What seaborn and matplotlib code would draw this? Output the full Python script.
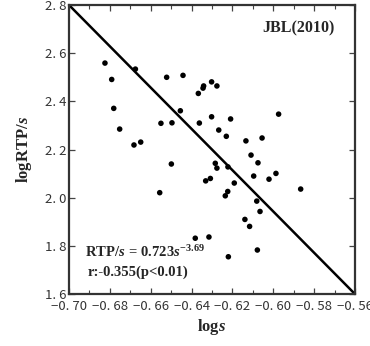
import numpy as np
import pandas as pd
import seaborn as sns
import matplotlib.pyplot as plt
from matplotlib.ticker import MultipleLocator

# values
log_s = [-0.6824, -0.6675, -0.6791, -0.6522, -0.6442, -0.6302, -0.6276, -0.6341,
         -0.6344, -0.6367, -0.6781, -0.6455, -0.6302, -0.6209, -0.5974, -0.6550,
         -0.6496, -0.6362, -0.6752, -0.6267, -0.6230, -0.6055, -0.6134, -0.6682,
         -0.6649, -0.6109, -0.6499, -0.6075, -0.6284, -0.6276, -0.6222, -0.6096,
         -0.5987, -0.6021, -0.6331, -0.6308, -0.6191, -0.6556, -0.5866, -0.6223,
         -0.6235, -0.6081, -0.6065, -0.6139, -0.6116, -0.6382, -0.6315, -0.6078,
         -0.6220]
log_rtp = [2.559, 2.534, 2.491, 2.500, 2.508, 2.481, 2.464, 2.464,
           2.455, 2.433, 2.371, 2.361, 2.336, 2.327, 2.347, 2.309,
           2.311, 2.310, 2.285, 2.281, 2.255, 2.248, 2.236, 2.219,
           2.231, 2.177, 2.140, 2.145, 2.143, 2.123, 2.128, 2.090,
           2.101, 2.077, 2.070, 2.080, 2.061, 2.021, 2.036, 2.026,
           2.008, 1.986, 1.943, 1.910, 1.881, 1.832, 1.837, 1.783,
           1.755]
fit_x = [-0.70, -0.56]
fit_y = [2.8, 1.6]

x_ticks = [-0.70, -0.68, -0.66, -0.64, -0.62, -0.60, -0.58, -0.56]
x_labels = ['\u22120. 70', '\u22120. 68', '\u22120. 66', '\u22120. 64',
            '\u22120. 62', '\u22120. 60', '\u22120. 58', '\u22120. 56']
y_ticks = [1.6, 1.8, 2.0, 2.2, 2.4, 2.6, 2.8]
y_labels = ['1. 6', '1. 8', '2. 0', '2. 2', '2. 4', '2. 6', '2. 8']


def main():
    sns.set_theme(style='ticks')
    plt.rcParams['font.family'] = ['Noto Sans CJK JP', 'DejaVu Sans']
    plt.rcParams['mathtext.fontset'] = 'custom'
    plt.rcParams['mathtext.rm'] = 'Liberation Serif:bold'
    plt.rcParams['mathtext.it'] = 'Liberation Serif:bold:italic'

    df = pd.DataFrame({'x': log_s, 'y': log_rtp})
    fit = pd.DataFrame({'x': fit_x, 'y': fit_y})

    fig = plt.figure(figsize=(3.70, 3.46), dpi=100)
    ax = fig.add_axes([0.1865, 0.150, 0.773, 0.8355])

    sns.lineplot(data=fit, x='x', y='y', color='black', linewidth=1.8, ax=ax)
    sns.scatterplot(data=df, x='x', y='y', color='black', s=16,
                    edgecolor='none', ax=ax)

    ax.set_xlim(-0.70, -0.56)
    ax.set_ylim(1.6, 2.8)
    ax.set_xticks(x_ticks)
    ax.set_xticklabels(x_labels, fontsize=9.5, color='#333333')
    ax.set_yticks(y_ticks)
    ax.set_yticklabels(y_labels, fontsize=9.5, color='#333333')
    ax.xaxis.set_minor_locator(MultipleLocator(0.01))
    ax.tick_params(which='both', direction='in', top=True, right=True,
                   color='#444444')
    ax.tick_params(axis='x', which='major', pad=4)
    ax.tick_params(axis='y', which='major', pad=2)
    ax.tick_params(which='major', length=4, width=0.9)
    ax.tick_params(which='minor', length=3, width=0.8)
    for sp in ax.spines.values():
        sp.set_linewidth(1.6)
        sp.set_color('#333333')

    ax.set_xlabel(r'$\mathrm{log}s$', fontsize=12, labelpad=3)
    ax.set_ylabel(r'$\mathrm{logRTP/}s$', fontsize=12, labelpad=8)

    ax.text(0.93, 0.92, 'JBL(2010)', transform=ax.transAxes, ha='right',
            va='center', fontsize=11.5, fontweight='bold',
            family='Liberation Serif')
    ax.text(0.055, 0.145, r'$\mathrm{RTP/}s\mathrm{\,=\,0.723}s^{\mathrm{-3.69}}$',
            transform=ax.transAxes, ha='left', va='center', fontsize=10.5)
    ax.text(0.065, 0.075, 'r:-0.355(p<0.01)', transform=ax.transAxes,
            ha='left', va='center', fontsize=10.5, fontweight='bold',
            family='Liberation Serif')

    fig.savefig('out.png', dpi=100)


if __name__ == '__main__':
    main()
